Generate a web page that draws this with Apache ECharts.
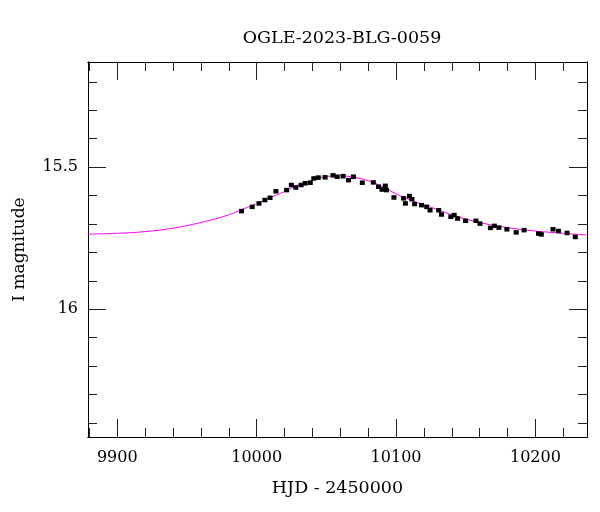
<!DOCTYPE html>
<html>
<head>
<meta charset="utf-8">
<script src="https://cdn.jsdelivr.net/npm/echarts@6/dist/echarts.min.js"></script>
<style>html,body{margin:0;padding:0;background:#fff}#c{width:600px;height:512px}</style>
</head>
<body>
<div id="c"></div>
<script>
// Observed OGLE points: HJD-2450000, I magnitude, error
const obsHJD = [9989.1, 9996.8, 10001.7, 10005.9, 10009.6, 10013.8, 10021.5, 10024.9, 10028.1, 10031.9,
  10034.8, 10038.5, 10041.0, 10044.2, 10049.1, 10054.8, 10057.8, 10062.0, 10065.9, 10069.4,
  10075.8, 10083.7, 10087.4, 10089.9, 10092.3, 10093.1, 10098.5, 10105.4, 10106.7, 10109.6,
  10111.4, 10113.3, 10118.3, 10122.0, 10124.4, 10130.6, 10132.6, 10139.3, 10141.7, 10144.2,
  10149.9, 10157.3, 10160.2, 10167.7, 10170.6, 10173.8, 10179.5, 10186.2, 10191.9, 10202.2,
  10204.2, 10212.6, 10216.5, 10222.7, 10228.6];
const obsMag = [15.654, 15.639, 15.627, 15.615, 15.607, 15.584, 15.580, 15.562, 15.571, 15.562,
  15.556, 15.554, 15.539, 15.536, 15.535, 15.528, 15.533, 15.531, 15.545, 15.533,
  15.554, 15.553, 15.568, 15.578, 15.565, 15.580, 15.606, 15.609, 15.627, 15.601,
  15.612, 15.629, 15.633, 15.639, 15.651, 15.651, 15.666, 15.674, 15.668, 15.680,
  15.688, 15.688, 15.698, 15.713, 15.706, 15.712, 15.718, 15.729, 15.721, 15.733,
  15.736, 15.718, 15.724, 15.731, 15.745];
const obsErr = [0.005, 0.005, 0.005, 0.005, 0.005, 0.005, 0.005, 0.005, 0.005, 0.005,
  0.005, 0.005, 0.005, 0.005, 0.005, 0.005, 0.005, 0.005, 0.005, 0.005,
  0.005, 0.005, 0.005, 0.005, 0.005, 0.005, 0.005, 0.005, 0.005, 0.005,
  0.005, 0.005, 0.005, 0.005, 0.005, 0.005, 0.005, 0.005, 0.005, 0.005,
  0.005, 0.005, 0.005, 0.005, 0.005, 0.005, 0.005, 0.005, 0.005, 0.005,
  0.005, 0.005, 0.005, 0.005, 0.006];
// Model curve
const modelHJD = [9879, 9900, 9920, 9940, 9960, 9980, 9990, 10000, 10010, 10020, 10030, 10040, 10050, 10060,
  10070, 10080, 10090, 10100, 10110, 10120, 10130, 10140, 10160, 10180, 10200, 10220, 10237];
const modelMag = [15.736, 15.733, 15.727, 15.715, 15.695, 15.668, 15.648, 15.629, 15.607, 15.586, 15.562, 15.547, 15.533, 15.531,
  15.536, 15.548, 15.568, 15.594, 15.615, 15.633, 15.650, 15.668, 15.695, 15.713, 15.725, 15.733, 15.739];
// Tick values
const xMajorTicks = [9900, 10000, 10100, 10200];
const xMinorTicks = [9880, 9900, 9920, 9940, 9960, 9980, 10000, 10020, 10040, 10060, 10080, 10100, 10120, 10140, 10160, 10180, 10200, 10220];
const yMajorTicks = [15.5, 16];
const yMinorTicks = [15.2, 15.3, 15.4, 15.5, 15.6, 15.7, 15.8, 15.9, 16.0, 16.1, 16.2, 16.3, 16.4];

const XMIN = 9879, XMAX = 10237, YMIN = 15.13, YMAX = 16.45;
const FONT = 'DejaVu Serif';
const chart = echarts.init(document.getElementById('c'), null, {renderer: 'canvas'});

function xAx(pos, ticks, len, labels) {
  return {
    type: 'value', position: pos, min: XMIN, max: XMAX,
    axisLine: {show: true, onZero: false, lineStyle: {color: '#000', width: 1}},
    axisTick: {show: true, inside: true, length: len, customValues: ticks, lineStyle: {color: '#222', width: 1}},
    axisLabel: labels ? {show: true, customValues: ticks, margin: 13, color: '#000', fontFamily: FONT, fontSize: 16,
      formatter: v => String(Math.round(v))} : {show: false},
    splitLine: {show: false}
  };
}
function yAx(pos, ticks, len, labels) {
  return {
    type: 'value', position: pos, min: YMIN, max: YMAX, inverse: true,
    axisLine: {show: true, onZero: false, lineStyle: {color: '#000', width: 1}},
    axisTick: {show: true, inside: true, length: len, customValues: ticks, lineStyle: {color: '#222', width: 1}},
    axisLabel: labels ? {show: true, customValues: ticks, margin: 10, color: '#000', fontFamily: FONT, fontSize: 16,
      formatter: v => String(Math.round(v * 10) / 10)} : {show: false},
    splitLine: {show: false}
  };
}

const xAxes = [xAx('bottom', xMajorTicks, 18, true), xAx('bottom', xMinorTicks, 9, false),
               xAx('top', xMajorTicks, 18, false), xAx('top', xMinorTicks, 9, false)];
xAxes[0].name = 'HJD - 2450000';
xAxes[0].nameLocation = 'middle';
xAxes[0].nameGap = 42;
xAxes[0].nameTextStyle = {fontFamily: FONT, fontSize: 17.5, color: '#000'};
const yAxes = [yAx('left', yMajorTicks, 18, true), yAx('left', yMinorTicks, 9, false),
               yAx('right', yMajorTicks, 18, false), yAx('right', yMinorTicks, 9, false)];
yAxes[0].name = 'I magnitude';
yAxes[0].nameLocation = 'middle';
yAxes[0].nameGap = 60;
yAxes[0].nameTextStyle = {fontFamily: FONT, fontSize: 17, color: '#000'};

const obs = obsHJD.map((x, i) => [x, obsMag[i], obsErr[i]]);
const model = modelHJD.map((x, i) => [x, modelMag[i]]);

chart.setOption({
  animation: false,
  backgroundColor: '#fff',
  title: {text: 'OGLE-2023-BLG-0059', left: 337, top: 24, textAlign: 'center',
    textStyle: {fontFamily: FONT, fontSize: 17.5, fontWeight: 'normal', color: '#000'}},
  grid: {left: 88, right: 13, top: 62, bottom: 75, containLabel: false},
  xAxis: xAxes,
  yAxis: yAxes,
  series: [
    {type: 'line', data: model, smooth: 0.4, showSymbol: false, symbol: 'none',
      lineStyle: {color: '#ff00ff', width: 1}, xAxisIndex: 0, yAxisIndex: 0, z: 3},
    {type: 'custom', xAxisIndex: 0, yAxisIndex: 0, data: obs, z: 4,
      renderItem: function (params, api) {
        const x = api.value(0), y = api.value(1), e = api.value(2);
        const p = api.coord([x, y]);
        const top = api.coord([x, y - e]);
        const bot = api.coord([x, y + e]);
        return {type: 'group', children: [
          {type: 'line', shape: {x1: p[0], y1: top[1], x2: p[0], y2: bot[1]}, style: {stroke: '#000', lineWidth: 1.5}},
          {type: 'rect', shape: {x: p[0] - 2.5, y: p[1] - 2, width: 5, height: 4.5}, style: {fill: '#000'}}
        ]};
      }
    }
  ]
});
</script>
</body>
</html>
